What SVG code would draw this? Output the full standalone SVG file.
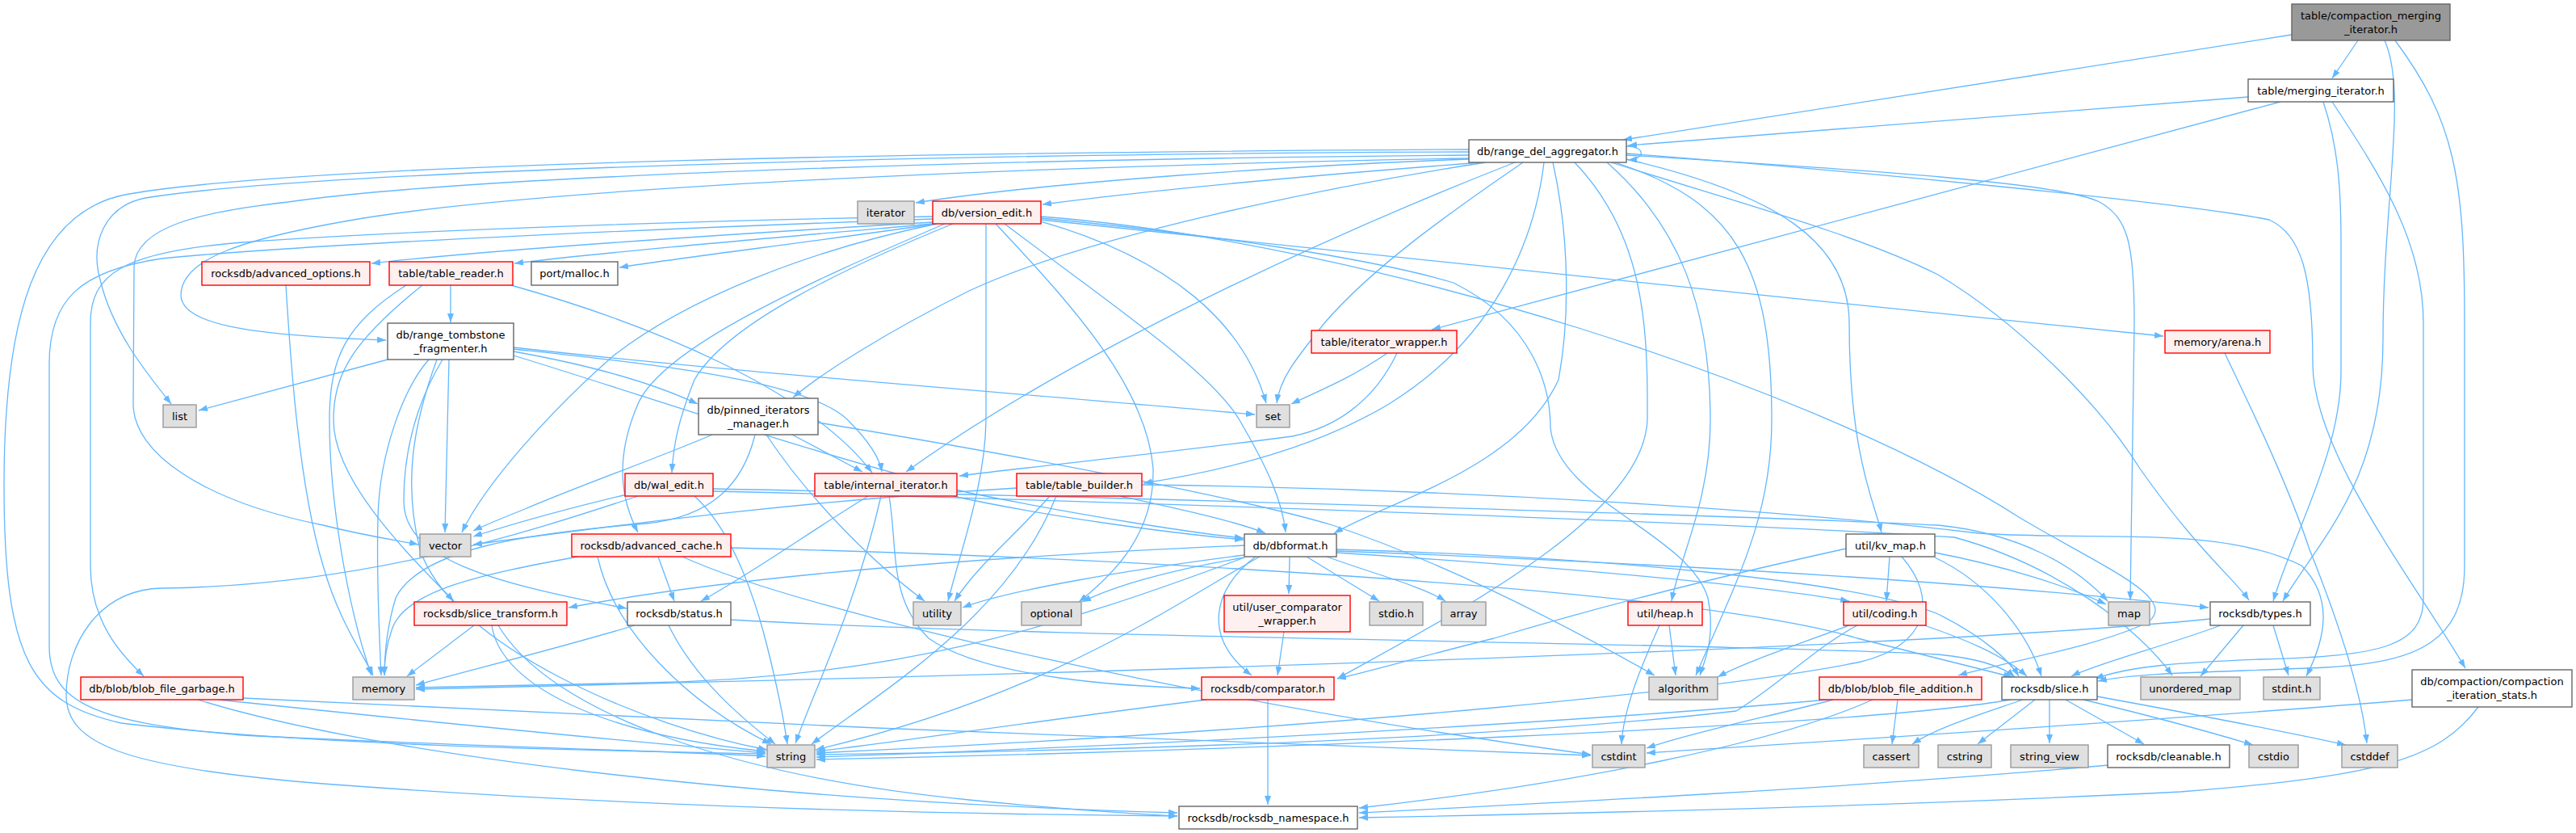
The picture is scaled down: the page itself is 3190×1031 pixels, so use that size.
<svg xmlns="http://www.w3.org/2000/svg" width="3190" height="1031" viewBox="0 0 3190 1031">
<style>
.w rect{fill:#ffffff;stroke:#666666;stroke-width:1.4}
.r rect{fill:#fff0f0;stroke:#ff0000;stroke-width:1.4}
.g rect{fill:#e0e0e0;stroke:#999999;stroke-width:1.4}
.k rect{fill:#999999;stroke:#666666;stroke-width:1.4}
text{font-family:"DejaVu Sans","Liberation Sans",sans-serif;font-size:13px;text-anchor:middle;fill:#000000}
#edges path{fill:none;stroke:#63b8ff;stroke-width:1.3;marker-end:url(#a)}
</style>
<defs>
<marker id="a" viewBox="0 0 11 8" refX="11" refY="4" markerWidth="11" markerHeight="8" markerUnits="userSpaceOnUse" orient="auto"><path d="M0,0L11,4L0,8z" fill="#63b8ff"/></marker>
</defs>
<rect x="0" y="0" width="3190" height="1031" fill="#ffffff"/>
<g id="edges">
<path d="M2838,43 L2010,173"/>
<path d="M2920,50 L2888,97"/>
<path d="M2953,50 C2982,115 2951,250 2951,420 C2951,600 2870,670 2827,744"/>
<path d="M2966,50 C3040,150 3052,220 3052,400 L3052,700 C3052,790 3000,820 2880,826 C2750,832 2650,832 2598,843"/>
<path d="M2784,120 L2016,180"/>
<path d="M2824,126 L1773,408"/>
<path d="M2877,126 C2895,180 2899,230 2899,300 L2899,460 C2899,560 2840,660 2815,744"/>
<path d="M2888,126 C2950,220 3001,300 3001,400 L3001,740 C3001,800 2950,812 2800,816 C2700,820 2640,824 2594,840"/>
<path d="M2014,181 C2038,181 2038,197 2016,198"/>
<path d="M1819,197 C1600,205 1300,225 1134,251"/>
<path d="M1835,201 C1650,215 1450,232 1291,253"/>
<path d="M1819,188 C1200,190 400,210 180,245 C130,255 110,300 125,350 C140,410 180,460 212,500"/>
<path d="M1819,185 C1200,188 400,200 160,240 C40,260 5,400 5,600 C5,820 40,870 150,895 C400,925 800,930 948,933"/>
<path d="M1819,192 C1300,196 600,215 357,250 C250,262 168,280 166,330 L165,500 C165,560 250,620 400,650 C460,665 500,670 518,674"/>
<path d="M1819,196 C1300,205 700,230 450,270 C300,295 225,320 224,365 C224,400 300,415 478,421"/>
<path d="M1840,201 C1650,230 1350,290 1200,360 C1100,410 1020,460 982,492"/>
<path d="M1886,201 C1800,260 1700,330 1640,400 C1600,450 1585,470 1581,499"/>
<path d="M1876,201 C1700,270 1350,420 1122,584"/>
<path d="M1912,201 C1900,300 1850,420 1720,500 C1620,560 1500,585 1416,598"/>
<path d="M1923,201 C1945,300 1943,400 1930,470 C1880,580 1720,620 1652,660"/>
<path d="M1950,201 C2035,290 2041,400 2040,520 C2035,640 1800,760 1656,840"/>
<path d="M1990,201 C2080,280 2118,380 2118,520 C2118,620 2080,690 2070,744"/>
<path d="M2000,201 C2150,250 2194,330 2194,520 C2194,640 2150,720 2100,836"/>
<path d="M2014,197 C2200,240 2290,300 2290,400 C2290,560 2320,620 2330,659"/>
<path d="M2014,192 C2300,210 2550,225 2600,250 C2635,270 2643,300 2643,400 L2638,743"/>
<path d="M1995,201 C2150,250 2300,290 2400,340 C2500,400 2600,500 2650,580 C2720,680 2770,720 2785,743"/>
<path d="M2014,190 C2300,212 2700,250 2810,272 C2850,290 2864,340 2864,450 C2864,560 2990,720 3053,827"/>
<path d="M1155,275 C900,290 600,310 460,326"/>
<path d="M1155,277 C950,295 750,312 637,326"/>
<path d="M1160,277 C1000,300 850,318 767,331"/>
<path d="M1289,272 C1500,290 2200,370 2679,416"/>
<path d="M1289,274 C1450,320 1540,400 1568,499"/>
<path d="M1160,277 C1000,310 850,370 760,440 C680,510 600,600 572,659"/>
<path d="M1155,271 C900,280 400,300 200,320 C100,335 61,370 61,450 L61,800 C61,870 120,895 300,910 C600,925 850,930 948,936"/>
<path d="M1221,277 L1221,520 C1220,600 1190,680 1174,744"/>
<path d="M1233,277 C1330,380 1420,480 1428,580 C1430,660 1380,710 1336,745"/>
<path d="M1244,277 C1380,380 1500,460 1535,520 C1570,580 1588,620 1592,659"/>
<path d="M1289,270 C1500,290 1700,320 1800,350 C1900,400 1920,480 1920,530 C1930,620 2090,660 2115,740 C2125,790 2110,820 2105,836"/>
<path d="M1180,277 C1050,330 900,400 860,470 C840,520 834,550 832,585"/>
<path d="M1170,277 C1000,350 820,430 790,500 C760,570 770,620 790,659"/>
<path d="M1155,268 C900,272 500,285 300,300 C150,312 112,340 112,400 L112,700 C112,770 150,810 178,837"/>
<path d="M1289,268 C1700,300 2250,480 2500,640 C2600,700 2700,740 2660,770 C2600,800 2480,820 2425,836"/>
<path d="M558,353 L558,399"/>
<path d="M503,353 C430,400 408,440 408,520 C408,620 430,750 460,836"/>
<path d="M523,353 C440,420 413,460 413,520 C413,600 520,700 562,744"/>
<path d="M633,353 C800,400 1000,480 1080,585"/>
<path d="M480,445 L246,508"/>
<path d="M531,445 C500,480 470,560 468,640 C466,720 470,790 472,836"/>
<path d="M556,445 L551,659"/>
<path d="M541,445 C510,530 500,600 520,680 C560,800 800,900 950,928"/>
<path d="M548,445 C515,500 500,560 500,620 C500,690 600,720 776,753"/>
<path d="M636,430 C900,460 1300,490 1554,513"/>
<path d="M636,435 C720,450 800,470 864,500"/>
<path d="M636,432 C800,450 1000,470 1050,520 C1080,550 1090,570 1092,584"/>
<path d="M636,440 C800,490 1000,560 1200,610 C1350,640 1480,660 1540,666"/>
<path d="M1718,437 C1670,470 1630,485 1599,500"/>
<path d="M1730,437 C1700,500 1650,530 1600,540 C1450,560 1300,575 1188,589"/>
<path d="M882,538 C820,565 720,600 650,630 C620,642 600,650 586,657"/>
<path d="M935,538 C920,600 880,640 800,648 C650,660 520,680 490,740 C478,780 476,810 476,836"/>
<path d="M949,538 C990,600 1060,680 1145,744"/>
<path d="M981,538 L1068,584"/>
<path d="M1013,523 C1300,570 1550,620 1650,650 C1800,700 1950,780 2049,836"/>
<path d="M776,612 C700,630 630,650 586,664"/>
<path d="M860,614 C900,650 930,720 950,800 C965,860 972,900 975,921"/>
<path d="M883,605 C1400,615 2200,640 2400,650 C2500,660 2570,700 2610,744"/>
<path d="M883,608 C1400,620 2200,650 2420,665 C2550,700 2650,780 2690,836"/>
<path d="M790,614 C650,660 450,725 200,728 C120,730 82,800 82,860 C82,920 150,950 400,970 C800,1000 1200,1008 1458,1010"/>
<path d="M1091,614 C1060,750 1010,850 985,920"/>
<path d="M1180,614 C1300,640 1450,660 1540,668"/>
<path d="M1101,614 C1112,680 1100,740 1150,790 C1220,840 1400,850 1486,852"/>
<path d="M1075,614 C1000,660 930,710 868,744"/>
<path d="M1259,604 C1000,620 800,645 586,674"/>
<path d="M1300,614 C1260,660 1210,700 1182,744"/>
<path d="M1308,614 C1250,760 1100,850 1005,921"/>
<path d="M1387,614 C1460,630 1530,645 1567,660"/>
<path d="M1414,600 C1800,605 2200,630 2450,660 C2600,670 2750,650 2850,700 C2890,740 2880,790 2856,837"/>
<path d="M716,689 C600,710 500,730 485,780 C478,800 476,820 476,836"/>
<path d="M740,689 C760,780 850,870 955,921"/>
<path d="M815,689 L835,744"/>
<path d="M845,689 C1000,760 1500,870 1970,934"/>
<path d="M905,678 C1400,690 2100,730 2300,790 C2400,815 2460,830 2492,838"/>
<path d="M1618,689 L1708,744"/>
<path d="M1643,689 C1700,710 1760,725 1790,744"/>
<path d="M1541,687 C1400,705 1250,730 1192,752"/>
<path d="M1541,690 C1450,705 1380,725 1340,745"/>
<path d="M1541,690 C1300,780 1100,840 800,845 C650,848 560,850 515,851"/>
<path d="M1560,689 C1450,750 1300,860 1010,928"/>
<path d="M1555,689 C1500,730 1490,790 1550,836"/>
<path d="M1597,689 L1596,735"/>
<path d="M1541,675 C1200,690 900,715 704,752"/>
<path d="M1655,680 C2000,690 2300,720 2400,760 C2460,790 2490,820 2500,837"/>
<path d="M1655,682 C2000,695 2400,715 2735,752"/>
<path d="M1655,684 C1900,700 2150,720 2290,744"/>
<path d="M2396,684 C2480,700 2560,725 2608,748"/>
<path d="M2286,679 C2100,720 1950,760 1850,790 C1750,815 1700,830 1656,840"/>
<path d="M2355,689 C2400,740 2390,800 2300,820 C2150,850 1700,900 1011,932"/>
<path d="M2340,689 L2336,744"/>
<path d="M2396,690 C2460,720 2510,780 2528,837"/>
<path d="M2067,774 L2075,836"/>
<path d="M2055,774 C2030,830 2010,880 2008,921"/>
<path d="M2290,774 C2220,800 2160,820 2127,838"/>
<path d="M2300,774 C2250,800 2200,850 2150,880 C1800,920 1300,930 1011,934"/>
<path d="M2383,774 C2430,790 2480,810 2510,837"/>
<path d="M1590,782 L1582,836"/>
<path d="M1494,866 C1300,890 1100,920 1011,930"/>
<path d="M1570,866 L1570,996"/>
<path d="M587,774 L504,837"/>
<path d="M609,774 C620,850 750,910 948,930"/>
<path d="M617,774 C680,880 900,960 1200,990 C1350,1005 1420,1008 1458,1010"/>
<path d="M786,774 C700,800 580,830 515,848"/>
<path d="M828,774 C860,840 920,890 960,921"/>
<path d="M905,767 C1300,790 2100,795 2400,810 C2450,815 2480,825 2495,838"/>
<path d="M2815,774 L2834,836"/>
<path d="M2737,766 C2400,800 1500,830 515,853"/>
<path d="M2778,774 L2725,837"/>
<path d="M2750,774 C2680,800 2600,820 2565,837"/>
<path d="M2505,866 C2450,885 2400,900 2368,921"/>
<path d="M2520,866 L2449,921"/>
<path d="M2538,866 L2538,920"/>
<path d="M2558,866 L2655,921"/>
<path d="M2580,866 C2680,890 2750,910 2790,922"/>
<path d="M2597,862 C2750,890 2850,910 2905,922"/>
<path d="M2490,866 C2300,900 1500,930 1011,940"/>
<path d="M2611,947 C2300,975 1900,995 1683,1006"/>
<path d="M2350,866 L2343,921"/>
<path d="M2270,866 C2200,885 2100,905 2039,926"/>
<path d="M2263,866 C2000,890 1500,920 1011,937"/>
<path d="M2319,866 C2200,920 1950,970 1683,1000"/>
<path d="M301,864 C800,890 1500,920 1970,935"/>
<path d="M270,866 C500,890 800,920 948,932"/>
<path d="M245,866 C450,930 900,990 1458,1006"/>
<path d="M2755,437 C2780,490 2830,590 2860,680 C2900,780 2925,860 2931,920"/>
<path d="M354,353 C360,450 370,600 400,700 C420,770 450,810 462,836"/>
<path d="M2987,866 C2700,890 2300,915 2039,932"/>
<path d="M3069,875 C3020,940 2950,960 2700,980 C2300,1000 1900,1008 1683,1012"/>
</g>
<g id="n_cmi" class="k"><rect x="2838" y="5" width="196" height="45"/><text x="2936" y="23.5">table/compaction_merging</text><text x="2936" y="40.5">_iterator.h</text></g>
<g id="n_mi" class="w"><rect x="2784" y="98" width="180" height="28"/><text x="2874" y="117">table/merging_iterator.h</text></g>
<g id="n_rda" class="w"><rect x="1819" y="173" width="195" height="28"/><text x="1916.5" y="192">db/range_del_aggregator.h</text></g>
<g id="n_iterator" class="g"><rect x="1062" y="249" width="70" height="28"/><text x="1097" y="268">iterator</text></g>
<g id="n_ve" class="r"><rect x="1155" y="249" width="134" height="28"/><text x="1222" y="268">db/version_edit.h</text></g>
<g id="n_ao" class="r"><rect x="250" y="324" width="208" height="29"/><text x="354" y="343">rocksdb/advanced_options.h</text></g>
<g id="n_tr" class="r"><rect x="482" y="324" width="153" height="29"/><text x="558.5" y="343">table/table_reader.h</text></g>
<g id="n_pm" class="w"><rect x="658" y="324" width="107" height="29"/><text x="711.5" y="343">port/malloc.h</text></g>
<g id="n_rtf" class="w"><rect x="480" y="400" width="156" height="45"/><text x="558" y="418.5">db/range_tombstone</text><text x="558" y="435.5">_fragmenter.h</text></g>
<g id="n_iw" class="r"><rect x="1624" y="409" width="180" height="28"/><text x="1714" y="428">table/iterator_wrapper.h</text></g>
<g id="n_arena" class="r"><rect x="2681" y="409" width="130" height="28"/><text x="2746" y="428">memory/arena.h</text></g>
<g id="n_pim" class="w"><rect x="865" y="493" width="148" height="45"/><text x="939" y="511.5">db/pinned_iterators</text><text x="939" y="528.5">_manager.h</text></g>
<g id="n_list" class="g"><rect x="202" y="501" width="41" height="28"/><text x="222.5" y="520">list</text></g>
<g id="n_set" class="g"><rect x="1556" y="501" width="41" height="28"/><text x="1576.5" y="520">set</text></g>
<g id="n_we" class="r"><rect x="774" y="586" width="109" height="28"/><text x="828.5" y="605">db/wal_edit.h</text></g>
<g id="n_ii" class="r"><rect x="1009" y="586" width="176" height="28"/><text x="1097" y="605">table/internal_iterator.h</text></g>
<g id="n_tb" class="r"><rect x="1259" y="586" width="155" height="28"/><text x="1336.5" y="605">table/table_builder.h</text></g>
<g id="n_vector" class="g"><rect x="520" y="661" width="63" height="28"/><text x="551.5" y="680">vector</text></g>
<g id="n_ac" class="r"><rect x="708" y="661" width="197" height="28"/><text x="806.5" y="680">rocksdb/advanced_cache.h</text></g>
<g id="n_df" class="w"><rect x="1541" y="661" width="114" height="28"/><text x="1598" y="680">db/dbformat.h</text></g>
<g id="n_kv" class="w"><rect x="2286" y="661" width="110" height="28"/><text x="2341" y="680">util/kv_map.h</text></g>
<g id="n_st" class="r"><rect x="513" y="745" width="189" height="29"/><text x="607.5" y="764">rocksdb/slice_transform.h</text></g>
<g id="n_status" class="w"><rect x="777" y="745" width="128" height="29"/><text x="841" y="764">rocksdb/status.h</text></g>
<g id="n_utility" class="g"><rect x="1131" y="745" width="59" height="29"/><text x="1160.5" y="764">utility</text></g>
<g id="n_optional" class="g"><rect x="1265" y="745" width="74" height="29"/><text x="1302" y="764">optional</text></g>
<g id="n_ucw" class="r"><rect x="1516" y="737" width="156" height="45"/><text x="1594" y="755.5">util/user_comparator</text><text x="1594" y="772.5">_wrapper.h</text></g>
<g id="n_stdio" class="g"><rect x="1696" y="745" width="66" height="29"/><text x="1729" y="764">stdio.h</text></g>
<g id="n_array" class="g"><rect x="1785" y="745" width="55" height="29"/><text x="1812.5" y="764">array</text></g>
<g id="n_heap" class="r"><rect x="2016" y="745" width="92" height="29"/><text x="2062" y="764">util/heap.h</text></g>
<g id="n_coding" class="r"><rect x="2283" y="745" width="102" height="29"/><text x="2334" y="764">util/coding.h</text></g>
<g id="n_map" class="g"><rect x="2611" y="745" width="51" height="29"/><text x="2636.5" y="764">map</text></g>
<g id="n_types" class="w"><rect x="2737" y="745" width="124" height="29"/><text x="2799" y="764">rocksdb/types.h</text></g>
<g id="n_bfg" class="r"><rect x="100" y="838" width="201" height="28"/><text x="200.5" y="857">db/blob/blob_file_garbage.h</text></g>
<g id="n_memory" class="g"><rect x="437" y="838" width="76" height="28"/><text x="475" y="857">memory</text></g>
<g id="n_cmp" class="r"><rect x="1488" y="838" width="164" height="28"/><text x="1570" y="857">rocksdb/comparator.h</text></g>
<g id="n_algorithm" class="g"><rect x="2042" y="838" width="85" height="28"/><text x="2084.5" y="857">algorithm</text></g>
<g id="n_bfa" class="r"><rect x="2253" y="838" width="201" height="28"/><text x="2353.5" y="857">db/blob/blob_file_addition.h</text></g>
<g id="n_slice" class="w"><rect x="2479" y="838" width="118" height="28"/><text x="2538" y="857">rocksdb/slice.h</text></g>
<g id="n_umap" class="g"><rect x="2651" y="838" width="123" height="28"/><text x="2712.5" y="857">unordered_map</text></g>
<g id="n_stdint" class="g"><rect x="2803" y="838" width="70" height="28"/><text x="2838" y="857">stdint.h</text></g>
<g id="n_cis" class="w"><rect x="2987" y="829" width="198" height="46"/><text x="3086" y="847.5">db/compaction/compaction</text><text x="3086" y="864.5">_iteration_stats.h</text></g>
<g id="n_string" class="g"><rect x="950" y="922" width="59" height="28"/><text x="979.5" y="941">string</text></g>
<g id="n_cstdint" class="g"><rect x="1972" y="922" width="65" height="28"/><text x="2004.5" y="941">cstdint</text></g>
<g id="n_cassert" class="g"><rect x="2308" y="922" width="68" height="28"/><text x="2342" y="941">cassert</text></g>
<g id="n_cstring" class="g"><rect x="2400" y="922" width="66" height="28"/><text x="2433" y="941">cstring</text></g>
<g id="n_sv" class="g"><rect x="2490" y="922" width="96" height="28"/><text x="2538" y="941">string_view</text></g>
<g id="n_cleanable" class="w"><rect x="2610" y="922" width="151" height="28"/><text x="2685.5" y="941">rocksdb/cleanable.h</text></g>
<g id="n_cstdio" class="g"><rect x="2785" y="922" width="61" height="28"/><text x="2815.5" y="941">cstdio</text></g>
<g id="n_cstddef" class="g"><rect x="2900" y="922" width="69" height="28"/><text x="2934.5" y="941">cstddef</text></g>
<g id="n_ns" class="w"><rect x="1460" y="998" width="221" height="28"/><text x="1570.5" y="1017">rocksdb/rocksdb_namespace.h</text></g>
</svg>
